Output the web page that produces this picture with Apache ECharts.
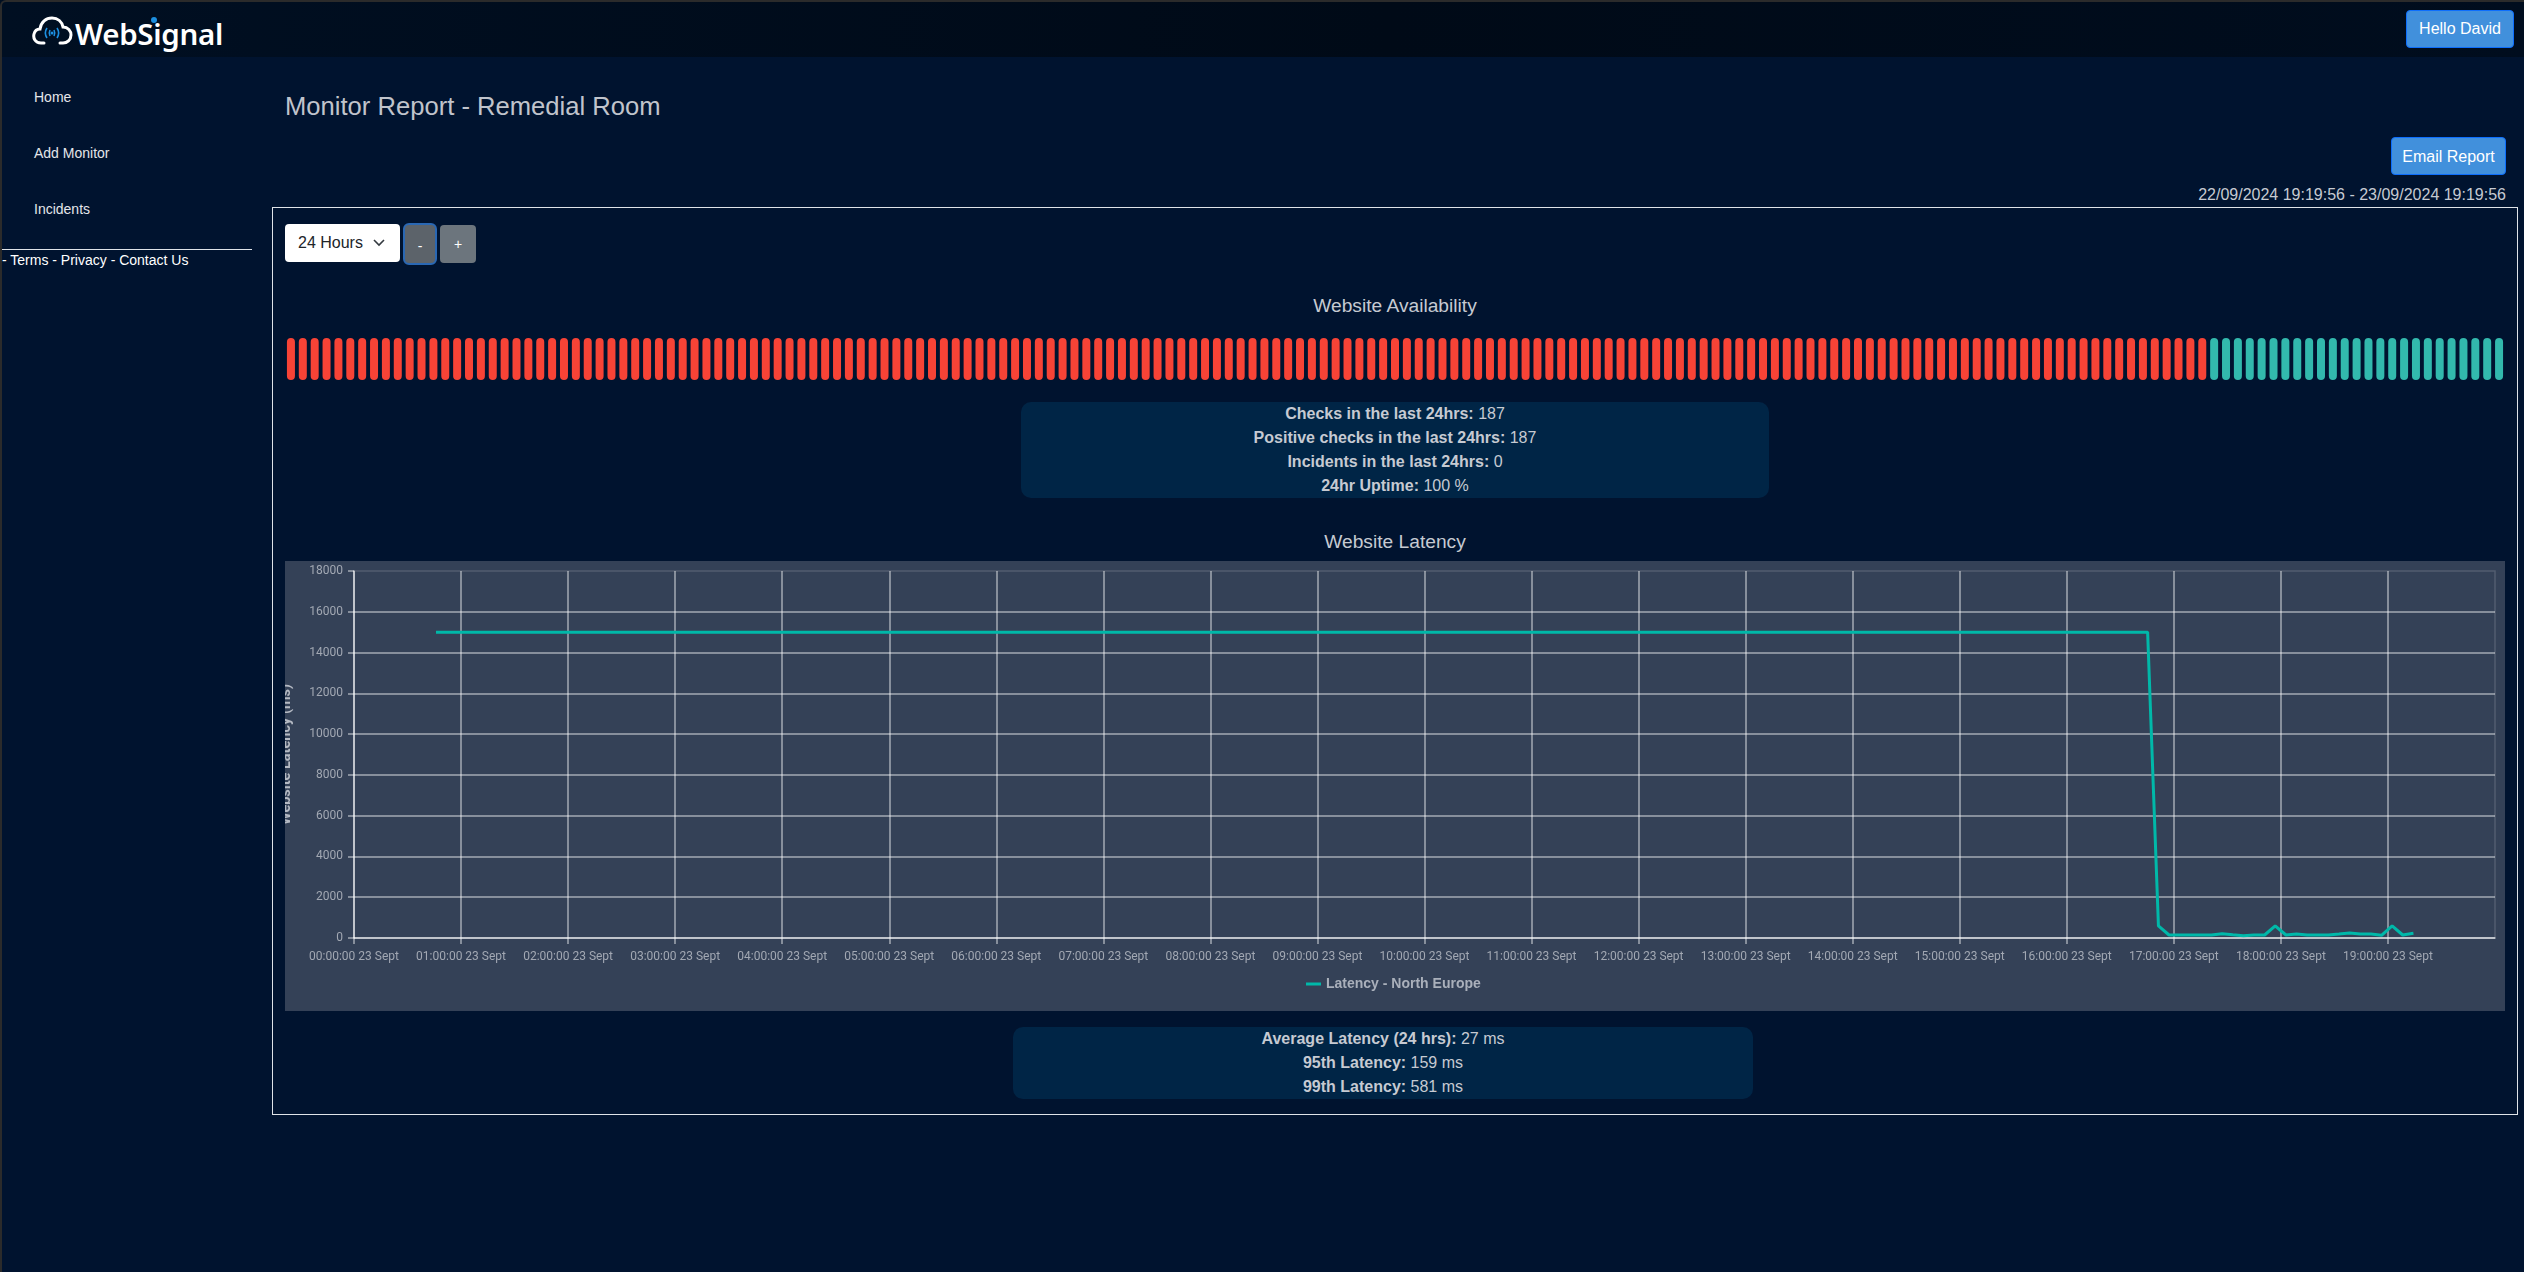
<!DOCTYPE html>
<html lang="en">
<head>
<meta charset="UTF-8">
<title>Monitor Report - Remedial Room</title>
<script src="https://cdn.jsdelivr.net/npm/echarts@6/dist/echarts.min.js"></script>
<style>
    html, body { margin: 0; padding: 0; }
    body { width: 2524px; height: 1272px; background: #00132f; position: relative; overflow: hidden;
           font-family: "Liberation Sans", Arial, sans-serif; font-size: 16px; color: #c6cad2; }
    .abs { position: absolute; white-space: nowrap; }
    #frame { position: absolute; left: 0; top: 0; width: 2524px; height: 1272px; box-sizing: border-box;
             border-top: 2px solid #2b2b2b; border-left: 2px solid #2b2b2b; border-radius: 6px 0 0 0; pointer-events: none; }
    #header { position: absolute; left: 0; top: 0; width: 2524px; height: 57px;
              background: linear-gradient(to right, #000f22, #000a17 55%, #000d1e); }
    .nav { font-size: 14px; color: #e4e6ea; left: 34px; line-height: 16px; }
    .btn { position: absolute; box-sizing: border-box; background: #4190dc; border: 1px solid #0d6efd; border-radius: 4px;
           color: #fff; text-align: center; }
    .stats { position: absolute; background: #002546; border-radius: 10px; text-align: center; line-height: 24px; color: #c6cad2; }
    #panel { position: absolute; left: 272px; top: 207px; width: 2246px; height: 908px; box-sizing: border-box; border: 1px solid #dfe3e8; }
    #availChart { position: absolute; left: 285px; top: 330px; width: 2220px; height: 58px; }
    #latencyChart { position: absolute; left: 285px; top: 561px; width: 2220px; height: 450px; background: #344157; }
</style>
</head>
<body>
<div id="header"></div>
<div id="frame"></div>

<svg class="abs" style="left:32px;top:15px" width="42" height="34" viewBox="0 0 42 34">
    <path d="M12 28 H9 C3 28 1 23 2 19 C3 15 6 14 8 14 C9 7 14 3 20 3 C26 3 30 7 31 12 C36 12 39 16 39 20 C39 25 35 28 31 28 H28"
          fill="none" stroke="#fff" stroke-width="3" stroke-linecap="round"/>
    <g fill="none" stroke="#1c8fe0" stroke-width="1.6">
        <path d="M15 13 C13 16 13 20 15 23"/><path d="M18 15 C17 17 17 19 18 21"/>
        <path d="M25 13 C27 16 27 20 25 23"/><path d="M22 15 C23 17 23 19 22 21"/>
    </g>
    <circle cx="20" cy="18" r="1.5" fill="#1c8fe0"/>
</svg>
<div class="abs" style="left:75px;top:14px;font-family:'Noto Sans',sans-serif;font-weight:600;font-size:29.5px;line-height:40px;letter-spacing:-0.3px;color:#fff">WebSignal</div>
<div class="abs" style="left:151px;top:17px;width:6px;height:6px;border-radius:3px;background:#1c8fe0"></div>

<div class="btn" style="left:2406px;top:10px;width:108px;height:38px;line-height:36px">Hello David</div>

<div class="abs nav" style="top:89px">Home</div>
<div class="abs nav" style="top:145px">Add Monitor</div>
<div class="abs nav" style="top:201px">Incidents</div>
<div class="abs" style="left:2px;top:249px;width:250px;height:1px;background:#dfe3e8"></div>
<div class="abs" style="left:2px;top:252px;font-size:14px;line-height:16px;color:#fff">- Terms - Privacy - Contact Us</div>

<div class="abs" style="left:285px;top:89px;font-size:25.6px;line-height:34px;color:#c0c4cc">Monitor Report - Remedial Room</div>
<div class="btn" style="left:2391px;top:137px;width:115px;height:38px;line-height:38px">Email Report</div>
<div class="abs" style="right:18px;top:186px;line-height:18px">22/09/2024 19:19:56 - 23/09/2024 19:19:56</div>

<div id="panel"></div>

<div class="abs" style="left:285px;top:224px;width:115px;height:38px;background:#fff;border-radius:4px;color:#212529;line-height:38px;text-indent:13px">24 Hours
    <svg style="position:absolute;left:87px;top:14px" width="14" height="10" viewBox="0 0 14 10"><path d="M2 2 L7 7 L12 2" fill="none" stroke="#343a40" stroke-width="1.6"/></svg>
</div>
<div class="btn" style="left:403px;top:223px;width:34px;height:42px;line-height:42px;background:#5c636a;border:2px solid #2a68b4;border-radius:6px;font-size:14px">-</div>
<div class="btn" style="left:440px;top:225px;width:36px;height:38px;line-height:38px;background:#6c757d;border:0;font-size:14px">+</div>

<div class="abs" style="left:285px;width:2220px;top:294px;text-align:center;font-size:19.2px;line-height:24px">Website Availability</div>
<div id="availChart"></div>

<div class="stats" style="left:1021px;top:402px;width:748px;height:96px">
    <b>Checks in the last 24hrs:</b> 187<br>
    <b>Positive checks in the last 24hrs:</b> 187<br>
    <b>Incidents in the last 24hrs:</b> 0<br>
    <b>24hr Uptime:</b> 100 %
</div>

<div class="abs" style="left:285px;width:2220px;top:530px;text-align:center;font-size:19.2px;line-height:24px">Website Latency</div>
<div id="latencyChart"></div>

<div class="stats" style="left:1013px;top:1027px;width:740px;height:72px">
    <b>Average Latency (24 hrs):</b> 27 ms<br>
    <b>95th Latency:</b> 159 ms<br>
    <b>99th Latency:</b> 581 ms
</div>

<script>
    // one entry per check, 0 = failed (red), 1 = ok (teal)
    const availability = [
        0,0,0,0,0,0,0,0,0,0,0,0,0,0,0,0,0,0,0,0,0,0,0,0,0,0,0,
        0,0,0,0,0,0,0,0,0,0,0,0,0,0,0,0,0,0,0,0,0,0,0,0,0,0,0,
        0,0,0,0,0,0,0,0,0,0,0,0,0,0,0,0,0,0,0,0,0,0,0,0,0,0,0,
        0,0,0,0,0,0,0,0,0,0,0,0,0,0,0,0,0,0,0,0,0,0,0,0,0,0,0,
        0,0,0,0,0,0,0,0,0,0,0,0,0,0,0,0,0,0,0,0,0,0,0,0,0,0,0,
        0,0,0,0,0,0,0,0,0,0,0,0,0,0,0,0,0,0,0,0,0,0,0,0,0,0,0,
        1,1,1,1,1,1,1,1,1,1,1,1,1,1,1,1,1,1,1,1,1,1,1,1,1
    ];

    // hours since midnight of the visible line vertices
    const latencyHours = [
        0.766, 16.755, 16.856,
        16.955, 17.054, 17.153, 17.253, 17.352, 17.451, 17.550, 17.650, 17.749, 17.848,
        17.947, 18.047, 18.146, 18.245, 18.344, 18.444, 18.543, 18.642, 18.741, 18.841,
        18.940, 19.039, 19.138, 19.238
    ];
    const latencyMs = [
        15000, 15000, 590,
        147, 147, 147, 147, 147, 210, 160, 115, 147, 147,
        600, 147, 195, 147, 147, 147, 195, 245, 195, 195,
        130, 600, 147, 228
    ];

    const hourLabels = [
        '00:00:00 23 Sept', '01:00:00 23 Sept', '02:00:00 23 Sept', '03:00:00 23 Sept', '04:00:00 23 Sept',
        '05:00:00 23 Sept', '06:00:00 23 Sept', '07:00:00 23 Sept', '08:00:00 23 Sept', '09:00:00 23 Sept',
        '10:00:00 23 Sept', '11:00:00 23 Sept', '12:00:00 23 Sept', '13:00:00 23 Sept', '14:00:00 23 Sept',
        '15:00:00 23 Sept', '16:00:00 23 Sept', '17:00:00 23 Sept', '18:00:00 23 Sept', '19:00:00 23 Sept'
    ];

    const availChart = echarts.init(document.getElementById('availChart'));
    availChart.setOption({
        animation: false,
        grid: { left: 0, right: 0, top: 8, bottom: 8 },
        xAxis: { type: 'category', data: availability.map((v, i) => i), show: false },
        yAxis: { type: 'value', min: 0, max: 1, show: false },
        series: [{
            type: 'bar',
            barWidth: 8,
            data: availability.map(v => ({
                value: 1,
                itemStyle: { color: v ? '#32b9ad' : '#f74336', borderRadius: 4 }
            }))
        }]
    });

    const gridColor = 'rgba(255,255,255,0.55)';
    const latencyChart = echarts.init(document.getElementById('latencyChart'));
    latencyChart.setOption({
        animation: false,
        textStyle: { fontFamily: 'Roboto' },
        grid: {
            left: 69, right: 10, top: 10, bottom: 73, outerBoundsMode: 'none',
            show: true, borderColor: 'rgba(255,255,255,0.15)', borderWidth: 1.5
        },
        legend: {
            left: 1016, top: 411,
            itemWidth: 15, itemHeight: 3, itemGap: 6,
            icon: 'rect',
            textStyle: { color: '#aab0bb', fontWeight: 'bold', fontSize: 14, fontFamily: 'Liberation Sans' }
        },
        xAxis: {
            type: 'value',
            min: 0, max: 20, interval: 1,
            axisLine: { lineStyle: { color: gridColor, width: 1.5 } },
            axisTick: { length: 6, lineStyle: { color: gridColor, width: 1.5 } },
            axisLabel: {
                color: '#a2a8b3', fontSize: 12, margin: 13,
                showMaxLabel: false,
                formatter: v => hourLabels[v] || ''
            },
            splitLine: { show: true, showMaxLine: false, lineStyle: { color: gridColor, width: 1.5 } }
        },
        yAxis: {
            type: 'value',
            min: 0, max: 18000, interval: 2000,
            name: 'Website Latency (ms)',
            nameLocation: 'middle',
            nameGap: 60,
            nameTextStyle: { color: '#b4b9c3', fontWeight: 'bold', fontSize: 14.5 },
            axisLine: { show: true, lineStyle: { color: gridColor, width: 1.5 } },
            axisTick: { show: true, length: 6, lineStyle: { color: gridColor, width: 1.5 } },
            axisLabel: { color: '#a2a8b3', fontSize: 12, margin: 11, formatter: v => String(v) },
            splitLine: { show: true, showMaxLine: false, lineStyle: { color: gridColor, width: 1.5 } }
        },
        series: [{
            name: 'Latency - North Europe',
            type: 'line',
            showSymbol: false,
            lineStyle: { color: '#00b8a9', width: 3 },
            itemStyle: { color: '#00b8a9' },
            data: latencyHours.map((h, i) => [h, latencyMs[i]])
        }]
    });
</script>
</body>
</html>
